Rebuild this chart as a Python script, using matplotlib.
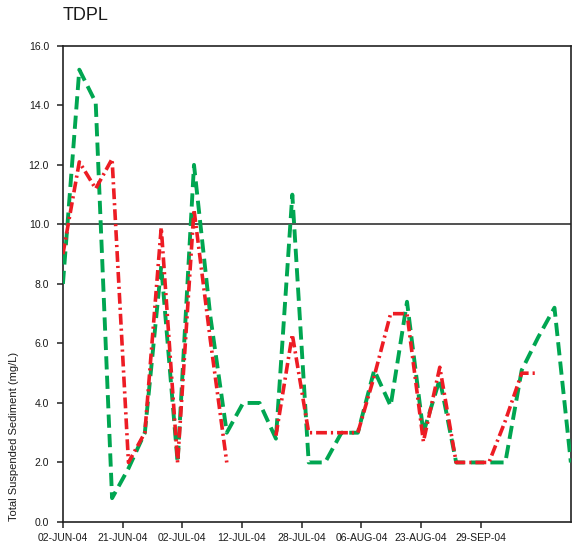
import matplotlib.pyplot as plt
import numpy as np

plt.rcParams['font.family'] = ['Liberation Sans', 'DejaVu Sans']

nan = np.nan

# sampling events, evenly spaced on a category axis
tick_labels = ["02-JUN-04", "21-JUN-04", "02-JUL-04", "12-JUL-04",
               "28-JUL-04", "06-AUG-04", "23-AUG-04", "29-SEP-04"]

# TSS (mg/L) for each sampling event
green_tss = [8.0, 15.2, 14.1, 0.8, 1.8, 3.0, 8.6, 2.0, 12.0, 6.9, 3.0,
             4.0, 4.0, 2.8, 11.0, 2.0, 2.0, 3.0, 3.0, 5.1, 3.9, 7.4,
             3.0, 4.8, 2.0, 2.0, 2.0, 2.0, 5.1, 6.2, 7.2, 2.0]
red_tss = [9.0, 12.1, 11.2, 12.2, 2.0, 3.0, 9.9, 2.0, 10.5, 6.1, 2.0,
           nan, nan, 2.9, 6.3, 3.0, 3.0, 3.0, 3.0, 4.9, 7.0, 7.0,
           2.7, 5.2, 2.0, 2.0, 2.0, 3.4, 5.0, 5.0, nan, 3.9]

guideline = 10.0

x = np.arange(len(green_tss))

fig = plt.figure(figsize=(5.72, 5.46), dpi=100)
ax = fig.add_axes([0.110, 0.044, 0.888, 0.872])

ax.plot(x, green_tss, color="#00a651", lw=2.8, dashes=(3.4, 1.6),
        dash_capstyle="butt", zorder=3)
ax.plot(x, red_tss, color="#ed1c24", lw=2.6, dashes=(3.0, 1.1, 0.6, 1.1),
        dash_capstyle="butt", zorder=4)

ax.axhline(guideline, color="#222222", lw=1.1, zorder=2)

ax.set_xlim(0, len(green_tss) - 1)
ax.set_ylim(0, 16)

step = 59.7 / (508.0 / (len(green_tss) - 1))
ax.set_xticks([i * step for i in range(len(tick_labels))])
ax.set_xticklabels(tick_labels)
ax.set_yticks(np.arange(0, 16.1, 2.0))
ax.set_yticklabels(["%.1f" % v for v in np.arange(0, 16.1, 2.0)])

ax.tick_params(axis="both", direction="out", length=4, width=1.1,
               labelsize=7.5, color="#222222", labelcolor="#1a1a1a")
ax.tick_params(axis="y", pad=6)
ax.tick_params(axis="x", pad=4)
for s in ax.spines.values():
    s.set_color("#222222")
    s.set_linewidth(1.2)

fig.text(0.11, 0.972, "TDPL", fontsize=13, ha="left", va="center",
         color="#1a1a1a")
fig.text(0.024, 0.046, "Total Suspended Sediment (mg/L)", fontsize=8,
         rotation=90, ha="center", va="bottom", color="#1a1a1a")

fig.savefig("out.png", dpi=100)
